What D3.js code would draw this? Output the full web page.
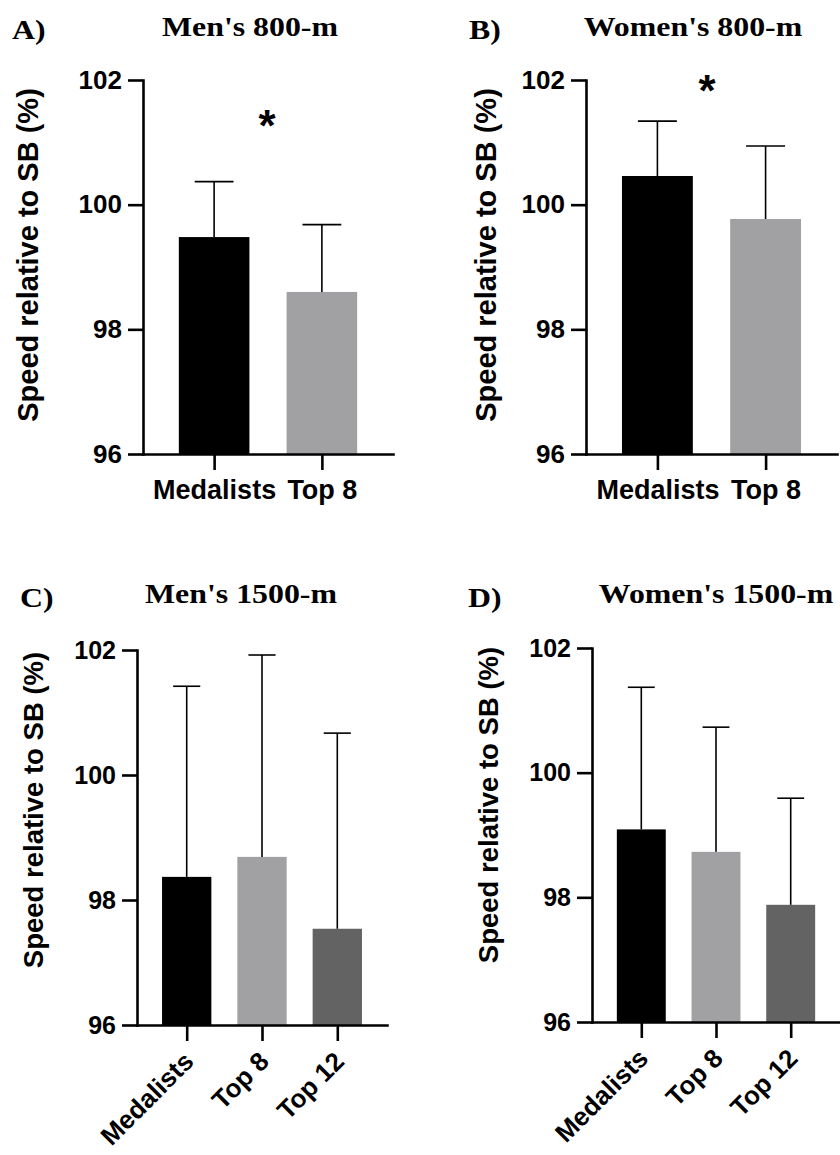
<!DOCTYPE html>
<html>
<head>
<meta charset="utf-8">
<script src="https://cdn.jsdelivr.net/npm/d3@7"></script>
<style>
  body { margin: 0; background: #fff; }
  svg { display: block; }
</style>
</head>
<body>
<div id="chart"></div>
<script>
// groups on the x axis
var groups800 = ["Medalists", "Top 8"];
var groups1500 = ["Medalists", "Top 8", "Top 12"];
var yTicks = [96, 98, 100, 102];

// mean speed relative to season best (%) and the upper error (SD)
var men800Mean = [99.48, 98.60];
var men800Err = [0.89, 1.08];
var women800Mean = [100.46, 99.77];
var women800Err = [0.88, 1.17];
var men1500Mean = [98.37, 98.69, 97.54];
var men1500Err = [3.05, 3.23, 3.13];
var women1500Mean = [99.09, 98.73, 97.88];
var women1500Err = [2.28, 2.00, 1.71];

var barColors = ["#000000", "#a1a1a4", "#636363"];
var sans = "'Liberation Sans', Arial, sans-serif";
var serif = "'Liberation Serif', 'Times New Roman', serif";

var svg = d3.select("#chart")
  .append("svg")
    .attr("width", 840)
    .attr("height", 1155);

svg.append("rect").attr("width", 840).attr("height", 1155).attr("fill", "#fff");

// layout of the four panels
var panels = [
  {letter: "A)", title: "Men's 800-m", groups: groups800, mean: men800Mean, err: men800Err,
   x0: 143, x1: 393, yTop: 80, yBot: 454, rotate: false, star: true, starX: 267, starY: 117,
   letterX: 12, letterY: 39, titleX: 250, titleY: 36, labelX: 38, labelY: 255, labelSize: 29, tickSize: 26},
  {letter: "B)", title: "Women's 800-m", groups: groups800, mean: women800Mean, err: women800Err,
   x0: 586, x1: 837, yTop: 80, yBot: 454, rotate: false, star: true, starX: 707, starY: 82,
   letterX: 469, letterY: 39, titleX: 693, titleY: 36, labelX: 496, labelY: 255, labelSize: 29, tickSize: 26},
  {letter: "C)", title: "Men's 1500-m", groups: groups1500, mean: men1500Mean, err: men1500Err,
   x0: 137, x1: 387, yTop: 650, yBot: 1025, rotate: true, star: false,
   letterX: 20, letterY: 607, titleX: 241, titleY: 603, labelX: 43, labelY: 810, labelSize: 27.5, tickSize: 25},
  {letter: "D)", title: "Women's 1500-m", groups: groups1500, mean: women1500Mean, err: women1500Err,
   x0: 592, x1: 840, yTop: 648, yBot: 1022, rotate: true, star: false,
   letterX: 468, letterY: 607, titleX: 716, titleY: 603, labelX: 498, labelY: 805, labelSize: 27.5, tickSize: 25}
];

panels.forEach(function(p) {
  var g = svg.append("g");

  var y = d3.scaleLinear()
    .domain([96, 102])
    .range([p.yBot, p.yTop]);

  var x = d3.scalePoint()
    .domain(p.groups)
    .range([p.x0, p.x1])
    .padding(0.66);

  var bw = x.step() * 0.655;
  var cap = bw * 0.55;

  var rows = p.groups.map(function(k, i) {
    return {key: k, mean: p.mean[i], err: p.err[i], color: barColors[i]};
  });

  // bars
  g.selectAll("rect.bar")
    .data(rows)
    .enter()
    .append("rect")
      .attr("class", "bar")
      .attr("x", function(d) { return x(d.key) - bw / 2; })
      .attr("y", function(d) { return y(d.mean); })
      .attr("width", bw)
      .attr("height", function(d) { return y(96) - y(d.mean); })
      .attr("fill", function(d) { return d.color; });

  // upper error bars
  g.selectAll("line.err")
    .data(rows)
    .enter()
    .append("line")
      .attr("class", "err")
      .attr("x1", function(d) { return x(d.key); })
      .attr("x2", function(d) { return x(d.key); })
      .attr("y1", function(d) { return y(d.mean); })
      .attr("y2", function(d) { return y(d.mean + d.err); })
      .attr("stroke", "#000")
      .attr("stroke-width", 1.6);

  g.selectAll("line.cap")
    .data(rows)
    .enter()
    .append("line")
      .attr("class", "cap")
      .attr("x1", function(d) { return x(d.key) - cap / 2; })
      .attr("x2", function(d) { return x(d.key) + cap / 2; })
      .attr("y1", function(d) { return y(d.mean + d.err); })
      .attr("y2", function(d) { return y(d.mean + d.err); })
      .attr("stroke", "#000")
      .attr("stroke-width", 1.6);

  // Y axis
  var ya = g.append("g")
    .attr("transform", "translate(" + p.x0 + ",0)")
    .call(d3.axisLeft(y).tickValues(yTicks).tickSize(15).tickSizeOuter(0).tickPadding(6).tickFormat(d3.format("d")));

  // X axis
  var xa = g.append("g")
    .attr("transform", "translate(0," + y(96) + ")")
    .call(d3.axisBottom(x).tickSize(16).tickSizeOuter(0));

  [ya, xa].forEach(function(a) {
    a.select(".domain").attr("stroke", "#000").attr("stroke-width", 2.6).attr("stroke-linecap", "square");
    a.selectAll(".tick line").attr("stroke", "#000").attr("stroke-width", 2.6);
    a.selectAll("text")
      .attr("fill", "#000")
      .style("font-family", sans)
      .style("font-weight", "bold")
      .style("font-size", p.tickSize + "px");
  });

  if (p.rotate) {
    xa.selectAll("text")
      .attr("x", 0)
      .attr("y", 0)
      .attr("dy", 0)
      .attr("text-anchor", "end")
      .attr("transform", "translate(8,38)rotate(-45)")
      .style("font-size", "26px");
  } else {
    xa.selectAll("text")
      .attr("y", 45)
      .attr("dy", 0)
      .style("font-size", "27px");
  }

  // Y axis title
  svg.append("text")
    .attr("transform", "translate(" + p.labelX + "," + p.labelY + ")rotate(-90)")
    .attr("text-anchor", "middle")
    .style("font-family", sans)
    .style("font-weight", "bold")
    .style("font-size", p.labelSize + "px")
    .text("Speed relative to SB (%)");

  // panel letter and title (serif, a little wide as in the figure)
  svg.append("text")
    .attr("transform", "translate(" + p.letterX + "," + p.letterY + ")scale(1.18,1)")
    .style("font-family", serif)
    .style("font-weight", "bold")
    .style("font-size", "27px")
    .text(p.letter);

  svg.append("text")
    .attr("transform", "translate(" + p.titleX + "," + p.titleY + ")scale(1.18,1)")
    .attr("text-anchor", "middle")
    .style("font-family", serif)
    .style("font-weight", "bold")
    .style("font-size", "27px")
    .text(p.title);

  if (p.star) {
    svg.append("text")
      .attr("x", p.starX)
      .attr("y", p.starY + 24)
      .attr("text-anchor", "middle")
      .style("font-family", sans)
      .style("font-weight", "bold")
      .style("font-size", "44px")
      .text("*");
  }
});
</script>
</body>
</html>
